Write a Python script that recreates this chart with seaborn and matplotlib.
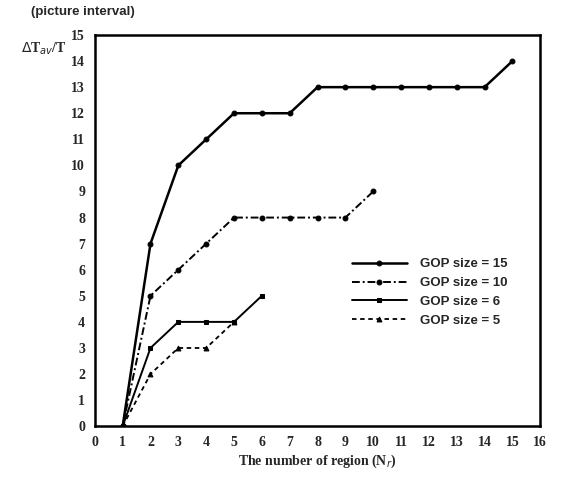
import matplotlib
matplotlib.use("Agg")
import matplotlib.pyplot as plt
import seaborn as sns
import pandas as pd

# Delay (in picture intervals) against the number of regions, per GOP size
regions_15 = [1, 2, 3, 4, 5, 6, 7, 8, 9, 10, 11, 12, 13, 14, 15]
delay_15 = [0, 7, 10, 11, 12, 12, 12, 13, 13, 13, 13, 13, 13, 13, 14]

regions_10 = [1, 2, 3, 4, 5, 6, 7, 8, 9, 10]
delay_10 = [0, 5, 6, 7, 8, 8, 8, 8, 8, 9]

regions_6 = [1, 2, 3, 4, 5, 6]
delay_6 = [0, 3, 4, 4, 4, 5]

regions_5 = [1, 2, 3, 4, 5]
delay_5 = [0, 2, 3, 3, 4]

series_labels = ["GOP size = 15", "GOP size = 10", "GOP size = 6", "GOP size = 5"]
x_ticks = list(range(0, 17))
y_ticks = list(range(0, 16))

sns.set_style("white")
plt.rcParams["font.family"] = ["Liberation Serif", "DejaVu Serif"]

fig = plt.figure(figsize=(5.61, 4.86), dpi=100)
ax = fig.add_axes([0.169, 0.123, 0.794, 0.805])

styles = [
    dict(linestyle="-", linewidth=1.8, marker="o", markersize=3.5),
    dict(linestyle=(0, (4, 1.5, 1, 1.5)), linewidth=1.4, marker="o", markersize=3.5),
    dict(linestyle="-", linewidth=1.4, marker="s", markersize=3),
    dict(linestyle=(0, (2.5, 2)), linewidth=1.3, marker="^", markersize=3.5),
]
data = [(regions_15, delay_15), (regions_10, delay_10), (regions_6, delay_6), (regions_5, delay_5)]

for (xs, ys), label, st in zip(data, series_labels, styles):
    df = pd.DataFrame({"N": xs, "dT": ys})
    sns.lineplot(data=df, x="N", y="dT", ax=ax, color="black", label=label,
                 markeredgecolor="black", **st)

ax.set_xlim(0, 16)
ax.set_ylim(0, 15)
ax.set_xticks(x_ticks)
ax.set_yticks(y_ticks)
ax.set_xticklabels([str(v) for v in x_ticks], fontsize=10, fontweight="bold")
ax.set_yticklabels([str(v) for v in y_ticks], fontsize=10, fontweight="bold")
ax.tick_params(axis="both", direction="inout", length=6, width=1.2, color="black", pad=4)
for sp in ax.spines.values():
    sp.set_visible(True)
    sp.set_color("black")
    sp.set_linewidth(1.8)

ax.set_xlabel("The number of region (N$_r$)", fontsize=10, fontweight="bold", labelpad=3)
ax.set_ylabel("")

fig.text(0.038, 0.9, r"$\Delta$T$_{av}$/T", fontsize=10, fontweight="bold", ha="left", va="center")
fig.text(0.055, 0.975, "(picture interval)", fontsize=9.5, fontweight="bold",
         family=["Liberation Sans", "DejaVu Sans"], ha="left", va="center")

leg = ax.legend(loc="upper left", bbox_to_anchor=(0.55, 0.46), frameon=False,
                handlelength=4.2, handletextpad=1.0, labelspacing=0.5,
                prop={"family": ["Liberation Sans", "DejaVu Sans"], "weight": "bold", "size": 9.5})

fig.savefig("out.png", dpi=100, facecolor="white")
